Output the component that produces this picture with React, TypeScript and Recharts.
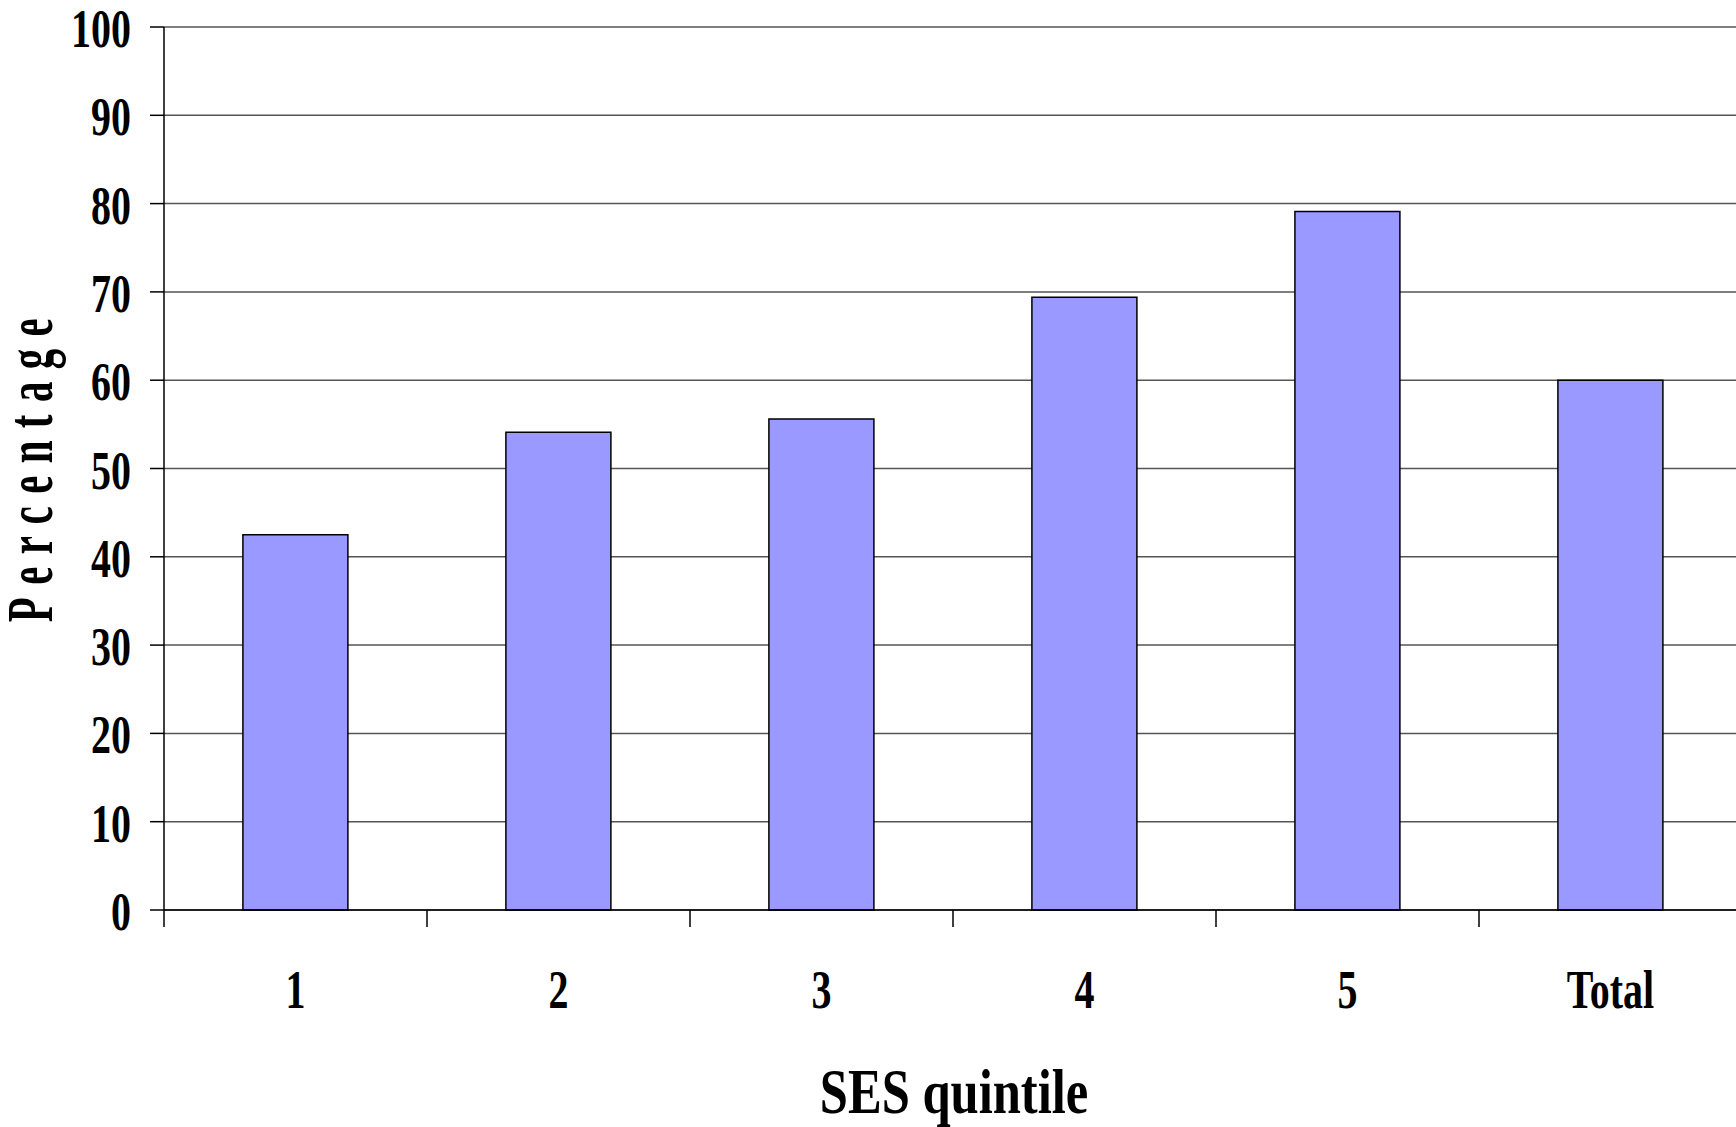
import { BarChart, Bar, XAxis, YAxis, CartesianGrid } from 'recharts';

const categories = ['1', '2', '3', '4', '5', 'Total'];
const percentages = [42.5, 54.1, 55.6, 69.4, 79.1, 60.0];
const yTicks = [0, 10, 20, 30, 40, 50, 60, 70, 80, 90, 100];

const data = categories.map((label, i) => ({ label, value: percentages[i] }));

const CHART_W = 1745;
const CHART_H = 1127;
const Y_AXIS_W = 164;
const MARGIN = { top: 27, right: 3, left: 0, bottom: 0 };
const X_AXIS_H = 217;
const band = (CHART_W - Y_AXIS_W - MARGIN.left - MARGIN.right) / categories.length;

const fontFamily = '"Liberation Serif", "Times New Roman", serif';

// narrow bold serif used for all axis text
const SquashedText = ({ x, y, size, sx, anchor = 'middle', children }: any) => (
  <text
    transform={`translate(${x},${y}) scale(${sx},1)`}
    textAnchor={anchor}
    fontFamily={fontFamily}
    fontWeight="bold"
    fontSize={size}
    fill="#000"
  >
    {children}
  </text>
);

const CategoryTick = (props: any) => {
  const { x, y, payload } = props;
  const left = x - band / 2;
  return (
    <g>
      <line x1={left} y1={y} x2={left} y2={y + 17} stroke="#000" strokeWidth={1.5} />
      <SquashedText x={x} y={y + 98} size={54} sx={0.74}>
        {payload.value}
      </SquashedText>
    </g>
  );
};

const ValueTick = (props: any) => {
  const { x, y, payload } = props;
  return (
    <SquashedText x={x} y={y + 20} size={54} sx={0.74} anchor="end">
      {payload.value}
    </SquashedText>
  );
};

export default function App() {
  return (
    <div style={{ position: 'absolute', left: 0, top: 0, width: 1736, height: 1127, overflow: 'hidden', background: '#fff' }}>
      <BarChart width={CHART_W} height={CHART_H} data={data} margin={MARGIN} barCategoryGap="30%">
        <CartesianGrid vertical={false} stroke="#555" strokeWidth={1.5} />
        <XAxis
          dataKey="label"
          height={X_AXIS_H}
          interval={0}
          tickLine={false}
          tickSize={0}
          tickMargin={0}
          axisLine={{ stroke: '#000', strokeWidth: 1.5 }}
          tick={<CategoryTick />}
          label={{
            content: () => (
              <SquashedText x={954} y={1113} size={64} sx={0.79}>
                SES quintile
              </SquashedText>
            ),
          }}
        />
        <YAxis
          width={Y_AXIS_W}
          domain={[0, 100]}
          ticks={yTicks}
          interval={0}
          tickSize={14}
          tickMargin={19}
          axisLine={{ stroke: '#000', strokeWidth: 1.5 }}
          tickLine={{ stroke: '#000', strokeWidth: 1.5 }}
          tick={<ValueTick />}
          label={{
            content: () => (
              <text
                transform="translate(52,464) rotate(-90) scale(0.62,1)"
                textAnchor="middle"
                fontFamily={fontFamily}
                fontWeight="bold"
                fontSize={66}
                letterSpacing={20}
                fill="#000"
              >
                Percentage
              </text>
            ),
          }}
        />
        <Bar dataKey="value" fill="#9999FF" stroke="#000" strokeWidth={1.5} isAnimationActive={false} />
      </BarChart>
    </div>
  );
}
